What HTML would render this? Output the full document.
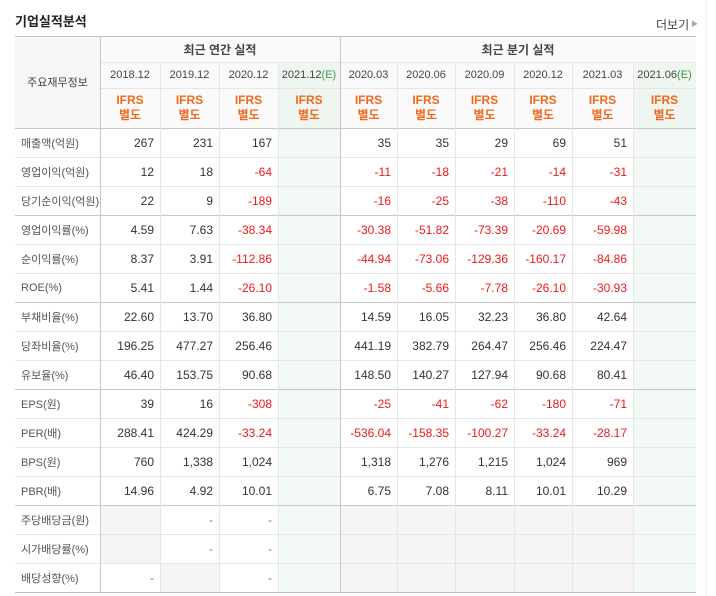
<!DOCTYPE html>
<html><head><meta charset="utf-8"><style>
body{margin:0;width:716px;height:596px;background:#fff;position:relative;overflow:hidden;font-family:"Liberation Sans","Noto Sans CJK KR",sans-serif;font-size:12px;color:#333}
.c{position:absolute;box-sizing:border-box;display:flex;align-items:center;white-space:nowrap;overflow:hidden}
.h{position:absolute;height:1px}
.v{position:absolute;width:1px}
</style></head><body>
<div class="c" style="left:15px;top:10px;height:20px;font-size:13px;font-weight:bold;color:#222">기업실적분석</div>
<div class="c" style="left:656px;top:14px;height:20px;font-size:12px;color:#444">더보기<span style="font-size:7px;color:#aaa;margin-left:2px">▶</span></div>
<div class="v" style="left:706px;top:0;height:596px;background:#eee"></div>
<div id="tbl"></div>
<script>
const colX=[15,100,160,219,278,340,397,455,514,572,633,696];
const periods=['2018.12','2019.12','2020.12','2021.12','2020.03','2020.06','2020.09','2020.12','2021.03','2021.06'];
const estimate=[false,false,false,true,false,false,false,false,false,true];
const labels=['매출액(억원)','영업이익(억원)','당기순이익(억원)','영업이익률(%)','순이익률(%)','ROE(%)','부채비율(%)','당좌비율(%)','유보율(%)','EPS(원)','PER(배)','BPS(원)','PBR(배)','주당배당금(원)','시가배당률(%)','배당성향(%)'];
const values=[
['267','231','167','','35','35','29','69','51',''],
['12','18','-64','','-11','-18','-21','-14','-31',''],
['22','9','-189','','-16','-25','-38','-110','-43',''],
['4.59','7.63','-38.34','','-30.38','-51.82','-73.39','-20.69','-59.98',''],
['8.37','3.91','-112.86','','-44.94','-73.06','-129.36','-160.17','-84.86',''],
['5.41','1.44','-26.10','','-1.58','-5.66','-7.78','-26.10','-30.93',''],
['22.60','13.70','36.80','','14.59','16.05','32.23','36.80','42.64',''],
['196.25','477.27','256.46','','441.19','382.79','264.47','256.46','224.47',''],
['46.40','153.75','90.68','','148.50','140.27','127.94','90.68','80.41',''],
['39','16','-308','','-25','-41','-62','-180','-71',''],
['288.41','424.29','-33.24','','-536.04','-158.35','-100.27','-33.24','-28.17',''],
['760','1,338','1,024','','1,318','1,276','1,215','1,024','969',''],
['14.96','4.92','10.01','','6.75','7.08','8.11','10.01','10.29',''],
['','-','-','','','','','','',''],
['','-','-','','','','','','',''],
['-','','-','','','','','','','']
];
const grayCells=[[13,0],[14,0],[15,1]];
const T=document.getElementById('tbl');
function cell(x,y,w,h,bg){const d=document.createElement('div');d.className='c';d.style.cssText=`left:${x}px;top:${y}px;width:${w}px;height:${h}px;background:${bg}`;T.appendChild(d);return d;}
let d=cell(15,36,85,92,'#f7f7f7');d.textContent='주요재무정보';d.style.justifyContent='center';d.style.color='#444';d.style.fontSize='11px';


d=cell(100,36,240,26,'#fafafa');d.textContent='최근 연간 실적';d.style.justifyContent='center';d.style.fontWeight='bold';d.style.color='#444';


d=cell(340,36,356,26,'#fafafa');d.textContent='최근 분기 실적';d.style.justifyContent='center';d.style.fontWeight='bold';d.style.color='#444';


for(let i=0;i<10;i++){
  const x=colX[i+1],w=colX[i+2]-x,bg=estimate[i]?'#eff6f0':'#fafafa';
  d=cell(x,62,w,26,bg);d.style.justifyContent='center';d.style.fontSize='11px';d.style.color='#444';
  d.innerHTML=periods[i]+(estimate[i]?'<span style="color:#3a9a4a">(E)</span>':'');
  
  
  d=cell(x,88,w,40,bg);d.style.justifyContent='center';d.style.textAlign='center';d.style.color='#f06a1e';d.style.fontWeight='bold';d.style.lineHeight='15px';
  d.innerHTML='IFRS<br>별도';
  
  
}
for(let r=0;r<labels.length;r++){
  const y=128+29*r;
  d=cell(15,y,85,29,'#fff');d.textContent=labels[r];d.style.paddingLeft='6px';d.style.color='#555';d.style.fontSize='11px';
  
  
  for(let i=0;i<10;i++){
    const x=colX[i+1],w=colX[i+2]-x;
    let bg=estimate[i]?'#f3f9f4':'#fff';
    if(r>=13&&i>=4&&i<=8)bg='#f5f5f5';
    if(grayCells.some(g=>g[0]===r&&g[1]===i))bg='#f5f5f5';
    d=cell(x,y,w,29,bg);d.style.justifyContent='flex-end';d.style.paddingRight='6px';
    const v=values[r][i];d.textContent=v;
    if(v.startsWith('-')&&v.length>1)d.style.color='#f01818';
    if(v==='-')d.style.color='#777';
    
    
  }
}
function hl(y,c){const l=document.createElement('div');l.className='h';l.style.cssText=`left:15px;width:681px;top:${y}px;background:${c}`;T.appendChild(l);}
function vl(x,y,h,c){const l=document.createElement('div');l.className='v';l.style.cssText=`left:${x}px;top:${y}px;height:${h}px;background:${c}`;T.appendChild(l);}
for(let r=1;r<16;r++)hl(128+29*r,'#e6e6e6');
[215,302,389,505].forEach(y=>hl(y,'#c8c8c8'));
hl(36,'#c0c0c0');hl(128,'#c8c8c8');hl(592,'#c0c0c0');
const h2=document.createElement('div');h2.className='h';h2.style.cssText='left:100px;width:596px;top:62px;background:#e6e6e6';T.appendChild(h2);
const h3=document.createElement('div');h3.className='h';h3.style.cssText='left:100px;width:596px;top:88px;background:#e6e6e6';T.appendChild(h3);
for(let i=2;i<11;i++){if(i!==5)vl(colX[i],62,530,'#e6e6e6');}
vl(100,36,556,'#c8c8c8');vl(340,36,556,'#c8c8c8');
</script>
</body></html>
